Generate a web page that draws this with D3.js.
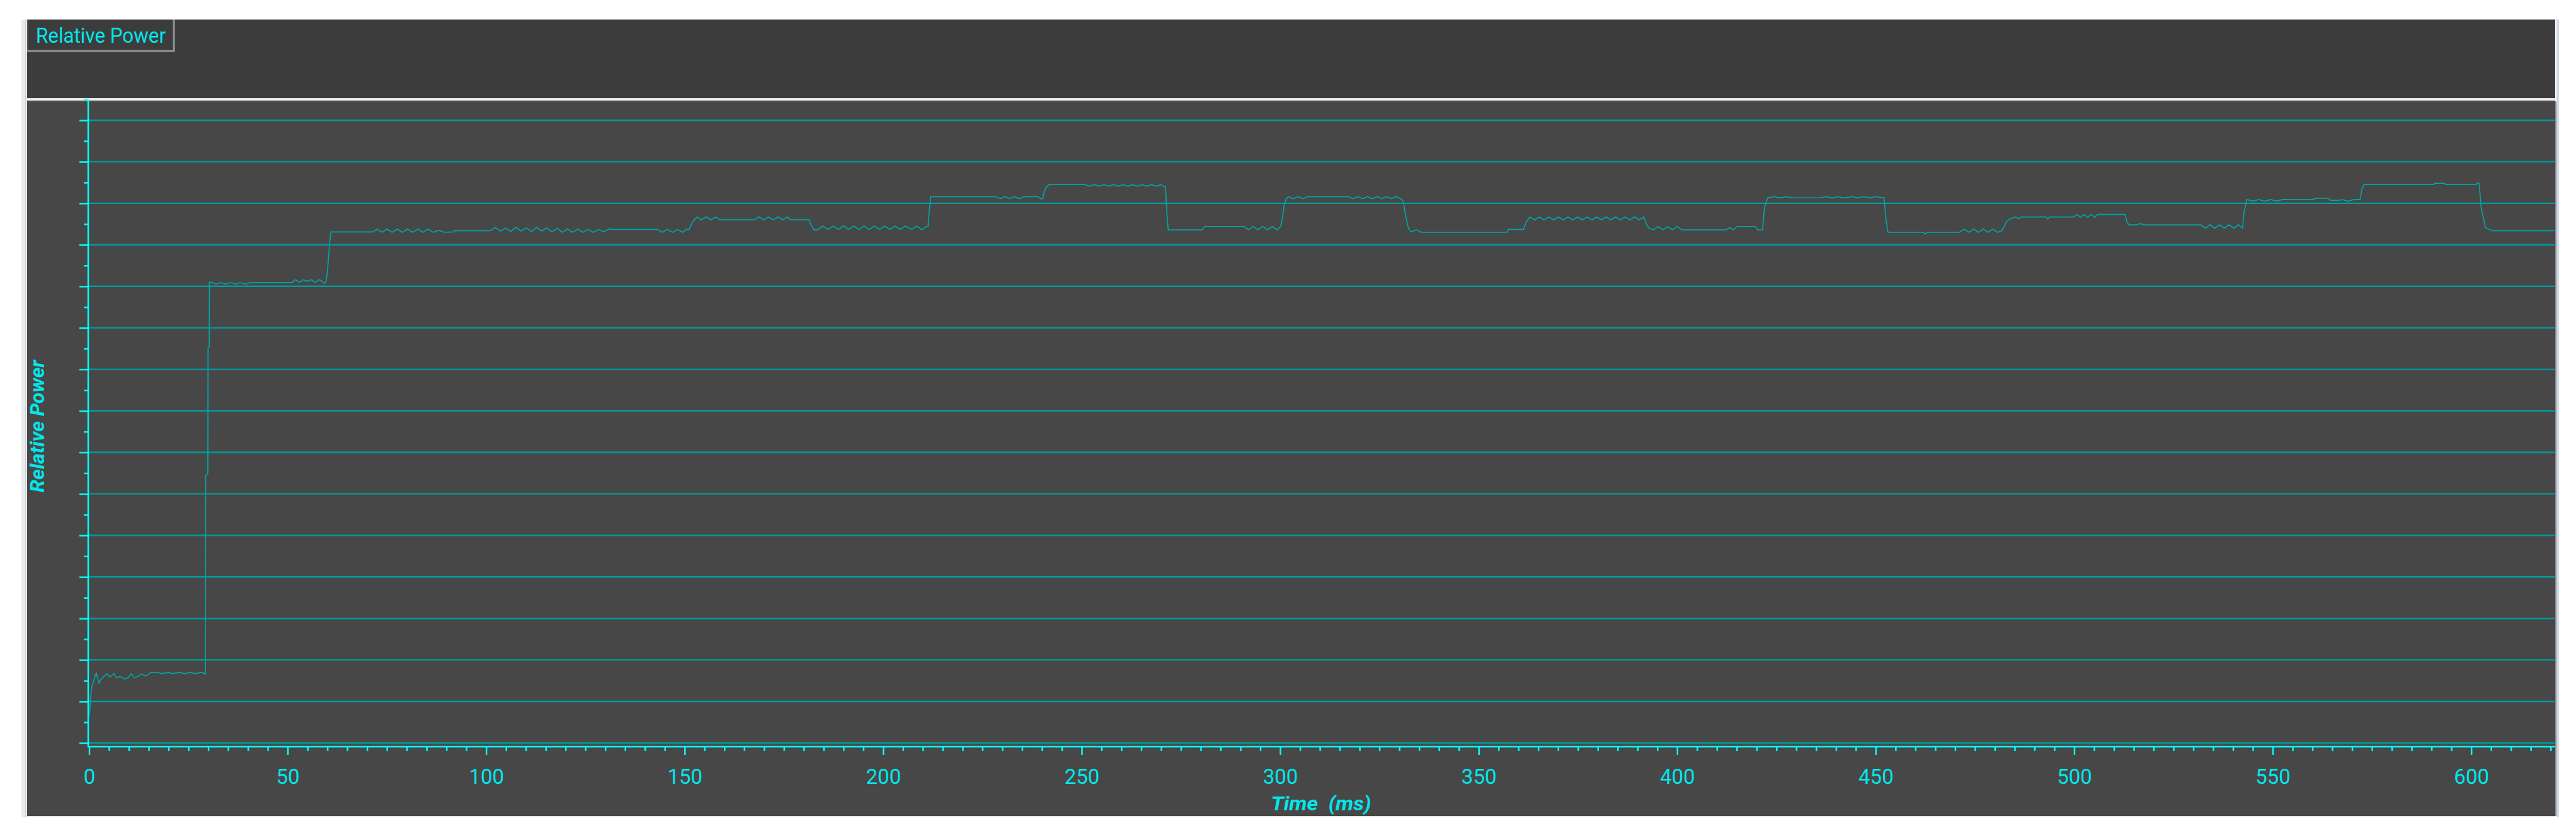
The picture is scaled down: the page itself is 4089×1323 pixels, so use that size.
<!DOCTYPE html>
<html><head><meta charset="utf-8">
<script src="https://cdn.jsdelivr.net/npm/d3@7"></script>
<style>html,body{margin:0;padding:0;background:#fff;overflow:hidden}svg{display:block}</style>
</head><body>
<svg id="chart" width="4089" height="1323"></svg>
<script>
// ---------- data ----------
const seriesName = "Relative Power";
const xAxisTitle = "Time  (ms)";
const yAxisTitle = "Relative Power";
const xMajorTicks = [0, 50, 100, 150, 200, 250, 300, 350, 400, 450, 500, 550, 600];
const xMinorTicks = [5,10,15,20,25,30,35,40,45,55,60,65,70,75,80,85,90,95,105,110,115,120,125,130,135,140,145,155,160,165,170,175,180,185,190,195,205,210,215,220,225,230,235,240,245,255,260,265,270,275,280,285,290,295,305,310,315,320,325,330,335,340,345,355,360,365,370,375,380,385,390,395,405,410,415,420,425,430,435,440,445,455,460,465,470,475,480,485,490,495,505,510,515,520,525,530,535,540,545,555,560,565,570,575,580,585,590,595,605,610,615,620];
const gridLevels = [0,1,2,3,4,5,6,7,8,9,10,11,12,13,14,15];
const yMinorTicks = [0.5,1.5,2.5,3.5,4.5,5.5,6.5,7.5,8.5,9.5,10.5,11.5,12.5,13.5,14.5,15.5];
// [time ms, relative power (grid units)]
const powerTrace = [
[0.0,0.63],[0.2,0.81],[0.4,1.12],[0.7,1.35],[1.1,1.49],[1.5,1.62],[1.8,1.68],[2.1,1.57],[2.5,1.44],[2.9,1.52],[3.5,1.58],[4.0,1.63],[4.5,1.67],[5.2,1.58],[6.2,1.67],[6.9,1.57],[7.7,1.60],[9.0,1.54],[9.8,1.57],[10.6,1.67],[11.4,1.57],[12.2,1.60],[13.2,1.66],[14.3,1.61],[15.6,1.70],[17.2,1.70],[18.3,1.67],[20.1,1.70],[20.9,1.67],[22.8,1.70],[24.1,1.67],[25.4,1.70],[26.7,1.67],[28.3,1.70],[29.3,1.66],
[29.35,6.43],[29.9,6.5],[29.95,9.53],[30.25,9.55],[30.3,11.1],
[31,11.09],[32,11.05],[33,11.09],[34.5,11.05],[35.5,11.09],[37,11.05],[38,11.09],[39.5,11.05],[40.5,11.09],[51.1,11.09],[52,11.16],[53,11.09],[54,11.16],[55,11.12],[56,11.16],[57,11.09],[58,11.16],[59.3,11.07],[59.6,11.10],[60.0,11.33],[60.3,11.70],[60.6,12.08],[60.9,12.31],[71.5,12.31],
[72.5,12.38],[73.8,12.30],[75,12.38],[76.3,12.30],[77.6,12.38],[78.9,12.30],[80.2,12.38],[81.5,12.30],[82.8,12.38],[84.1,12.30],[85.4,12.38],[86.7,12.30],[88,12.35],[89.5,12.30],[91.9,12.31],[92,12.34],[101,12.34],
[102.3,12.42],[103.6,12.33],[104.9,12.40],[106.2,12.32],[107.5,12.42],[108.8,12.33],[110.1,12.41],[111.4,12.32],[112.7,12.42],[114,12.33],[115.3,12.41],[116.6,12.31],[117.9,12.40],[119.2,12.30],[120.5,12.38],[121.8,12.30],[123.1,12.38],[124.4,12.30],[125.7,12.37],[127,12.30],[128.3,12.37],[129.6,12.31],[130.9,12.38],[132,12.37],[143.2,12.37],
[144.3,12.30],[145.6,12.37],[146.9,12.30],[148.2,12.37],[149.5,12.30],[150.3,12.37],[151.1,12.37],[152,12.55],[153.1,12.67],
[154.2,12.60],[155.4,12.67],[156.6,12.60],[157.8,12.67],[159,12.60],[167.5,12.60],
[168.7,12.67],[169.9,12.60],[171.1,12.67],[172.3,12.60],[173.5,12.67],[174.7,12.60],[175.9,12.67],[176.7,12.60],[181.3,12.60],[182,12.45],[182.6,12.36],
[183.5,12.36],[184.8,12.45],[186.1,12.37],[187.4,12.45],[188.7,12.37],[190,12.46],[191.3,12.37],[192.6,12.45],[193.9,12.37],[195.2,12.45],[196.5,12.37],[197.8,12.45],[199.1,12.37],[200.4,12.45],[201.7,12.37],[203,12.45],[204.3,12.37],[205.6,12.45],
[207.2,12.37],[208.5,12.45],[209.8,12.36],[210.8,12.44],[211.3,12.44],[211.6,12.80],[212.0,13.16],[228.4,13.16],
[229.5,13.11],[230.7,13.16],[231.9,13.11],[233.1,13.16],[234.3,13.11],[235.5,13.16],[239,13.16],[239.7,13.11],[240.2,13.11],[240.5,13.25],[241.0,13.38],[241.8,13.45],[250.8,13.45],
[252,13.41],[253.2,13.45],[254.4,13.41],[255.6,13.45],[256.8,13.41],[258,13.45],[259.2,13.41],[260.4,13.45],[261.6,13.41],[262.8,13.45],[264,13.41],[265.2,13.45],[266.4,13.41],[267.6,13.45],[268.8,13.41],[270,13.45],[270.5,13.41],[271.1,13.40],[271.5,12.70],[271.8,12.36],[280.3,12.36],[281.0,12.44],[290.9,12.44],
[292,12.36],[293.2,12.44],[294.4,12.36],[295.6,12.44],[296.8,12.36],[298,12.44],[299.2,12.36],[300.1,12.44],[300.5,12.6],[301.0,12.95],[301.5,13.10],[302.1,13.16],
[303.3,13.11],[304.5,13.16],[305.7,13.11],[306.9,13.16],[317.2,13.16],
[318.4,13.11],[319.6,13.16],[320.8,13.11],[322,13.16],[323.2,13.11],[324.4,13.16],[325.6,13.11],[326.8,13.16],[328,13.11],[329.2,13.16],[330.4,13.11],[331.0,13.05],[331.6,12.70],[332.3,12.40],[333.0,12.31],[334.3,12.36],[335.6,12.30],[357.1,12.30],[357.4,12.37],[361.3,12.37],[362.0,12.55],[362.9,12.67],
[364.1,12.60],[365.3,12.67],[366.5,12.60],[367.7,12.67],[368.9,12.60],[370.1,12.67],[371.3,12.60],[372.5,12.67],[373.7,12.60],[374.9,12.67],[376.1,12.60],[377.3,12.67],[378.5,12.60],[379.7,12.67],[380.9,12.60],[382.1,12.67],[383.3,12.60],[384.5,12.67],[385.7,12.60],[386.9,12.67],[388.1,12.60],[389.3,12.67],[390.5,12.60],[391.6,12.67],
[392.2,12.50],[392.9,12.40],[394,12.36],[395.2,12.44],[396.4,12.36],[397.6,12.44],[398.8,12.36],[400,12.44],[401.2,12.36],[402.1,12.36],[412.3,12.36],
[413.2,12.41],[414.2,12.36],[415.0,12.44],[419.7,12.44],[420.3,12.36],[421.5,12.36],[422.0,12.90],[422.8,13.13],
[424.5,13.16],[426,13.13],[427.5,13.16],[429,13.13],[436,13.13],[437.5,13.16],[439,13.13],[440.5,13.16],[442,13.13],[444,13.16],[445.5,13.13],[447,13.16],[448.5,13.13],[450,13.16],[452.1,13.13],[452.6,12.60],[453.1,12.30],[462,12.30],[462.4,12.26],[463,12.30],[471.1,12.30],
[472.3,12.38],[473.5,12.30],[474.7,12.38],[475.9,12.30],[477.1,12.38],[478.3,12.30],[479.5,12.38],[480.7,12.30],[481.8,12.34],[483.1,12.58],[484.0,12.63],[485.1,12.67],[486.0,12.63],[486.7,12.67],[493,12.67],[493.3,12.62],[493.8,12.67],[499.8,12.67],
[500.7,12.73],[501.6,12.66],[502.5,12.73],[503.4,12.66],[504.3,12.73],[505.2,12.66],[505.8,12.73],[512.8,12.73],[513.3,12.55],[513.8,12.48],[516,12.48],[516.5,12.51],[517.8,12.48],[531.9,12.48],
[533,12.40],[534.2,12.48],[535.4,12.40],[536.6,12.48],[537.8,12.40],[539,12.48],[540.2,12.40],[541.4,12.48],[542.4,12.40],[542.8,12.80],[543.5,13.09],
[545,13.05],[546.5,13.09],[548,13.05],[549.5,13.09],[551,13.05],[552.5,13.09],[560,13.09],[561,13.12],[564,13.12],[564.5,13.07],[567,13.07],[567.5,13.09],[569,13.05],[570.5,13.09],[572,13.09],[572.5,13.35],[573.0,13.45],[590.6,13.45],[590.8,13.48],[593.3,13.48],[593.5,13.45],[601.3,13.45],[601.5,13.48],[602.0,13.48],[602.5,12.90],[603.6,12.41],[605.3,12.34],[621,12.34]
];

// ---------- layout ----------
const W = 4089, H = 1323;
const panelL = 43, panelR = 4056, headerTop = 31, headerBot = 156, plotTop = 161, plotBot = 1296;
const axisX = 140, xAxisY = 1186;
const CYAN = "#00ffff", GRID = "#009c9c", LINE = "#00a6a6", LABEL = "#00e8ec";
const FONT = "Roboto, 'Open Sans', 'Noto Sans', sans-serif";

const svg = d3.select("#chart");

// frame
svg.append("rect").attr("x",0).attr("y",0).attr("width",W).attr("height",H).attr("fill","#ffffff");
svg.append("rect").attr("x",34).attr("y",headerTop).attr("width",6).attr("height",plotBot-headerTop+2).attr("fill","#ebebeb");
svg.append("rect").attr("x",40).attr("y",headerTop).attr("width",2).attr("height",plotBot-headerTop+2).attr("fill","#c7cfdf");
svg.append("rect").attr("x",4058).attr("y",headerTop).attr("width",4).attr("height",plotBot-headerTop+2).attr("fill","#d2d9e7");
svg.append("rect").attr("x",panelL).attr("y",headerTop).attr("width",panelR-panelL).attr("height",headerBot-headerTop).attr("fill","#3c3c3c");
svg.append("rect").attr("x",panelL).attr("y",headerBot).attr("width",panelR-panelL).attr("height",4).attr("fill","#f0f0f0");
svg.append("rect").attr("x",panelL).attr("y",159.5).attr("width",panelR-panelL).attr("height",1.5).attr("fill","#7a7a7a");
svg.append("rect").attr("x",panelL).attr("y",plotTop).attr("width",panelR-panelL).attr("height",plotBot-plotTop).attr("fill","#474747");
svg.append("rect").attr("x",panelR).attr("y",plotTop).attr("width",2).attr("height",plotBot-plotTop).attr("fill","#8a8a8a");
svg.append("rect").attr("x",panelL).attr("y",plotBot).attr("width",panelR-panelL).attr("height",2).attr("fill","#e4e4e4");

// legend box
const lg = svg.append("g");
lg.append("rect").attr("x",panelL).attr("y",headerTop).attr("width",233).attr("height",50).attr("fill","#3c3c3c");
lg.append("line").attr("x1",panelL+1).attr("x2",panelL+1).attr("y1",headerTop).attr("y2",headerTop+50).attr("stroke","#5a5a5a").attr("stroke-width",2);
lg.append("line").attr("x1",panelL+233).attr("x2",panelL+233).attr("y1",headerTop).attr("y2",headerTop+51).attr("stroke","#959595").attr("stroke-width",3);
lg.append("line").attr("x1",panelL).attr("x2",panelL+234).attr("y1",headerTop+50).attr("y2",headerTop+50).attr("stroke","#959595").attr("stroke-width",3);
lg.append("text").attr("x",57).attr("y",68).attr("fill",LABEL).attr("font-family",FONT).attr("font-size",34)
  .attr("textLength",206).attr("lengthAdjust","spacingAndGlyphs").text(seriesName);

// scales
const x = d3.scaleLinear().domain([0, 621]).range([141.5, 4055]);
const y = d3.scaleLinear().domain([0, 15.5]).range([1180, 158]);

// gridlines
svg.append("g").selectAll("line").data(gridLevels).join("line")
  .attr("x1",axisX).attr("x2",panelR).attr("y1",d=>y(d)).attr("y2",d=>y(d))
  .attr("stroke",GRID).attr("stroke-width",2.4);

// y axis (no labels)
function styleAxis(g){ g.select(".domain").remove(); g.selectAll(".tick line").attr("stroke",CYAN).attr("stroke-width",2.5); g.selectAll(".tick text").remove(); }
svg.append("g").attr("transform",`translate(${axisX},0)`)
  .call(d3.axisLeft(y).tickValues(gridLevels).tickSize(14).tickFormat(""))
  .call(styleAxis);
svg.append("g").attr("transform",`translate(${axisX},0)`)
  .call(d3.axisLeft(y).tickValues(yMinorTicks).tickSize(7).tickFormat(""))
  .call(styleAxis);
svg.append("line").attr("x1",axisX).attr("x2",axisX).attr("y1",y(15.5)).attr("y2",xAxisY+1)
  .attr("stroke",CYAN).attr("stroke-width",2.5);

// x axis
const xg = svg.append("g").attr("transform",`translate(0,${xAxisY})`)
  .call(d3.axisBottom(x).tickValues(xMajorTicks).tickSize(13).tickPadding(23).tickFormat(d3.format("d")));
xg.select(".domain").remove();
xg.selectAll(".tick line").attr("stroke",CYAN).attr("stroke-width",2.5);
xg.selectAll(".tick text").attr("fill",LABEL).attr("font-family",FONT).attr("font-size",33);
svg.append("g").attr("transform",`translate(0,${xAxisY})`)
  .call(d3.axisBottom(x).tickValues(xMinorTicks).tickSize(7).tickFormat(""))
  .call(g=>{g.select(".domain").remove(); g.selectAll(".tick line").attr("stroke",CYAN).attr("stroke-width",2.5);});
svg.append("line").attr("x1",axisX-1).attr("x2",panelR).attr("y1",xAxisY).attr("y2",xAxisY)
  .attr("stroke",CYAN).attr("stroke-width",2.5);

// axis titles
svg.append("text").attr("x",2097).attr("y",1287).attr("text-anchor","middle")
  .attr("fill",LABEL).attr("font-family",FONT).attr("font-size",32).attr("font-weight","bold").attr("font-style","italic")
  .attr("textLength",159).attr("lengthAdjust","spacingAndGlyphs")
  .style("white-space","pre").attr("xml:space","preserve").text(xAxisTitle);
svg.append("text").attr("transform","translate(70,677) rotate(-90)").attr("text-anchor","middle")
  .attr("fill",LABEL).attr("font-family",FONT).attr("font-size",32).attr("font-weight","bold").attr("font-style","italic")
  .attr("textLength",210).attr("lengthAdjust","spacingAndGlyphs")
  .text(yAxisTitle);

// trace
const line = d3.line().x(d=>x(d[0])).y(d=>y(d[1]));
svg.append("path").datum(powerTrace).attr("d",line).attr("fill","none")
  .attr("stroke",LINE).attr("stroke-width",1.7).attr("stroke-linejoin","miter");
</script>
</body></html>
